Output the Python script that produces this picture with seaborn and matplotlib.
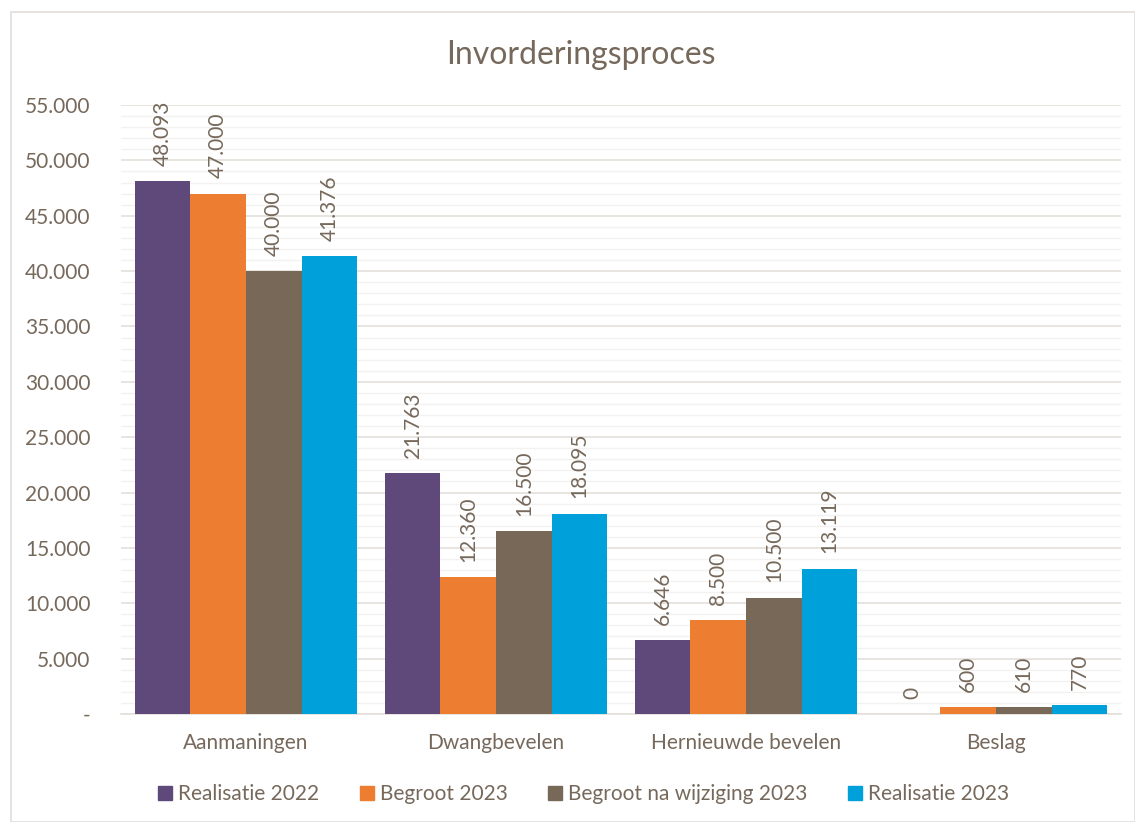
import matplotlib
matplotlib.use("Agg")
import matplotlib.pyplot as plt
import matplotlib.ticker as mticker
from matplotlib.patches import Rectangle
from matplotlib.lines import Line2D
import pandas as pd
import seaborn as sns

categories = ["Aanmaningen", "Dwangbevelen", "Hernieuwde bevelen", "Beslag"]
series = ["Realisatie 2022", "Begroot 2023", "Begroot na wijziging 2023", "Realisatie 2023"]
realisatie_2022 = [48093, 21763, 6646, 0]
begroot_2023 = [47000, 12360, 8500, 600]
begroot_wijziging_2023 = [40000, 16500, 10500, 610]
realisatie_2023 = [41376, 18095, 13119, 770]
colors = ["#5f497a", "#ed7d31", "#786858", "#00a0da"]

text_color = "#76695c"

rows = []
for name, vals in zip(series, [realisatie_2022, begroot_2023, begroot_wijziging_2023, realisatie_2023]):
    for cat, v in zip(categories, vals):
        rows.append({"Categorie": cat, "Reeks": name, "Aantal": v})
df = pd.DataFrame(rows)

sns.set_style("white")
plt.rcParams["font.family"] = ["Lato", "DejaVu Sans"]

fig = plt.figure(figsize=(11.35, 8.22), dpi=100)
ax = fig.add_axes([121 / 1135, 1 - 714 / 822, 1000 / 1135, (714 - 105) / 822])

sns.barplot(data=df, x="Categorie", y="Aantal", hue="Reeks", order=categories,
            hue_order=series, palette=colors, width=0.89, saturation=1,
            edgecolor="none", linewidth=0, ax=ax, legend=False, zorder=3)

ax.set_xlim(-0.5, 3.5)
ax.set_ylim(0, 55000)
ax.yaxis.set_major_locator(mticker.MultipleLocator(5000))
ax.yaxis.set_minor_locator(mticker.MultipleLocator(1000))
ax.yaxis.set_major_formatter(mticker.FuncFormatter(
    lambda v, p: "-" if v == 0 else f"{int(v):,}".replace(",", ".")))
ax.grid(axis="y", which="major", color="#e4e0dc", linewidth=1.2, zorder=0)
ax.grid(axis="y", which="minor", color="#f4f2f0", linewidth=1, zorder=0)
ax.set_axisbelow(True)
for s in ["top", "right", "left"]:
    ax.spines[s].set_visible(False)
ax.spines["bottom"].set_color("#e4e0dc")
ax.spines["bottom"].set_linewidth(1.2)
ax.tick_params(axis="both", which="both", length=0, colors=text_color, labelsize=15)
ax.tick_params(axis="y", pad=22)
ax.tick_params(axis="x", pad=14)
ax.set_xlabel("")
ax.set_ylabel("")

for cont in ax.containers:
    labels = [f"{int(b.get_height()):,}".replace(",", ".") for b in cont]
    ax.bar_label(cont, labels=labels, rotation=90, padding=11, color=text_color, fontsize=15)

fig.text(581 / 1135, 1 - 55 / 822, "Invorderingsproces", color=text_color,
         fontsize=23, ha="center", va="center")

handles = [Line2D([0], [0], marker="s", linestyle="none", markersize=10,
                  markerfacecolor=c, markeredgecolor=c) for c in colors]
fig.legend(handles, series, loc="center", bbox_to_anchor=(584 / 1135, 1 - 794 / 822),
           ncol=4, frameon=False, fontsize=15, labelcolor=text_color,
           handlelength=0.6, handletextpad=0.3, columnspacing=2.0)

fig.patches.append(Rectangle((11 / 1135, 0), 1 - 11 / 1135, 1 - 12 / 822,
                             transform=fig.transFigure, fill=False,
                             edgecolor="#e2deda", linewidth=1.2))

fig.savefig("out.png", dpi=100)
